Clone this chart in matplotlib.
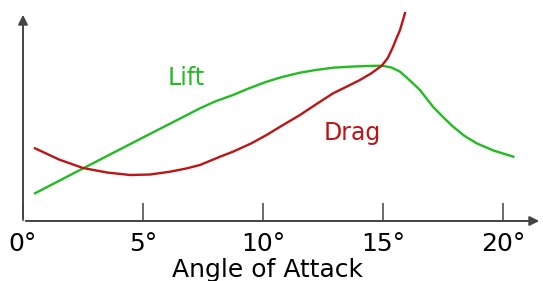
import matplotlib
matplotlib.use("Agg")
import matplotlib.pyplot as plt

# values (degrees, arbitrary units)
lift_deg = [0.5, 2.51, 5.0, 7.375, 8.0, 8.75, 9.4, 10.15, 10.8, 11.54, 12.2, 12.92, 13.6, 14.32, 14.95,
            15.35, 15.71, 16.1, 16.54, 17.08, 17.5, 17.92, 18.4, 18.9, 19.6, 20.43]
lift_val = [27.7, 52.7, 83.5, 112.7, 119.5, 126, 132.5, 139.3, 144, 148.3, 151, 153.3, 154.3, 155, 155.3,
            153.5, 149.3, 141, 131, 114.3, 104, 94.3, 85, 77.7, 70.5, 64.3]

drag_deg = [0.5, 1.5, 2.5, 3.5, 4.46, 5.3, 6.125, 6.8, 7.375, 8.21, 8.75, 9.5, 10.15, 10.8, 11.54, 12.2,
            12.92, 13.5, 14.04, 14.5, 14.95, 15.2, 15.42, 15.55, 15.71, 15.82, 15.92]
drag_val = [72.7, 61.5, 53, 48.5, 46, 46.5, 49.3, 52.5, 56, 64.3, 69.3, 77.5, 86, 95.5, 106, 116.5,
            127.7, 134.5, 141, 147.5, 155.3, 163, 174.3, 182, 191, 200, 208.3]

ticks = [0, 5, 10, 15, 20]
tick_labels = [f"{t}°" for t in ticks]

GREEN = "#22bb22"
RED = "#bb1515"
AXIS = "#444444"

W, H = 543, 281
fig = plt.figure(figsize=(W / 100, H / 100), dpi=100)
ax = fig.add_axes([23 / W, 60 / H, (542 - 23) / W, (221 - 12) / H])
ax.set_xlim(0, 21.625)
ax.set_ylim(0, 209)
for s in ax.spines.values():
    s.set_visible(False)

# axes with arrow heads
arrow = dict(arrowstyle="-|>", color=AXIS, lw=1.4, mutation_scale=14)
ax.annotate("", xy=(21.625, 0), xytext=(0, 0), arrowprops=arrow, annotation_clip=False)
ax.annotate("", xy=(0, 209), xytext=(0, 0), arrowprops=arrow, annotation_clip=False)

ax.set_xticks(ticks)
ax.set_xticklabels(tick_labels, fontsize=18)
ax.tick_params(axis="x", direction="in", length=13, width=1.1, color=AXIS, pad=8)
ax.set_yticks([])

ax.plot(lift_deg, lift_val, color=GREEN, lw=1.7, solid_joinstyle="round")
ax.plot(drag_deg, drag_val, color=RED, lw=1.7, solid_joinstyle="round")

ax.text(6.04, 136, "Lift", color=GREEN, fontsize=17, va="baseline", ha="left")
ax.text(12.54, 81, "Drag", color=RED, fontsize=17, va="baseline", ha="left")

fig.text((167 + 367) / 2 / W, 1 - 277 / H, "Angle of Attack", fontsize=18,
         ha="center", va="baseline")

fig.savefig("out.png", dpi=100)
